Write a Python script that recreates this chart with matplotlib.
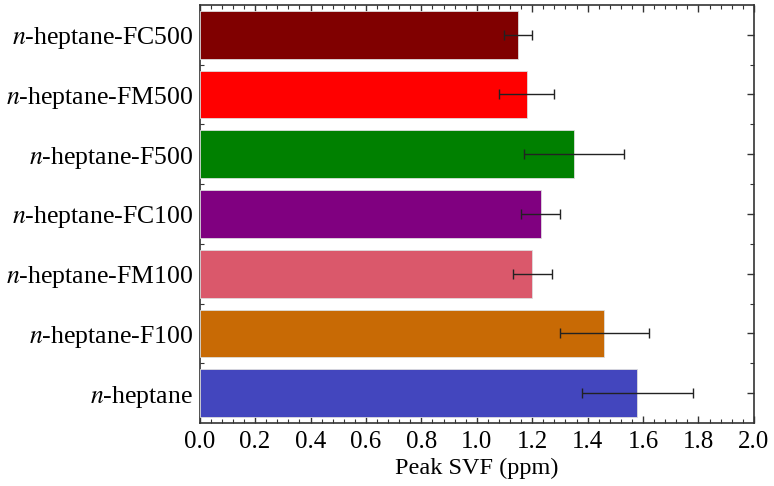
import matplotlib
matplotlib.use('Agg')
import matplotlib.pyplot as plt
from matplotlib.ticker import MultipleLocator

plt.rcParams['font.family'] = 'Liberation Serif'
plt.rcParams['mathtext.fontset'] = 'stix'

labels = [r'$\it{n}$-heptane', r'$\it{n}$-heptane-F100', r'$\it{n}$-heptane-FM100',
          r'$\it{n}$-heptane-FC100', r'$\it{n}$-heptane-F500', r'$\it{n}$-heptane-FM500',
          r'$\it{n}$-heptane-FC500']
values = [1.58, 1.46, 1.20, 1.23, 1.35, 1.18, 1.15]
errors = [0.20, 0.16, 0.07, 0.07, 0.18, 0.10, 0.05]
colors = ['#4346BE', '#C86A05', '#DA586B', '#800080', '#008000', '#FF0000', '#800000']

fig = plt.figure(figsize=(7.74, 4.86), dpi=100)
ax = fig.add_axes([0.258, 0.1296, 0.716, 0.8604])

pos = list(range(len(labels)))
ax.barh(pos, values, height=0.8, color=colors, edgecolor='#dddddd', linewidth=0.6, zorder=3)
ax.errorbar(values, pos, xerr=errors, fmt='none', ecolor='#222222', elinewidth=1.0,
            capsize=3.5, capthick=1.0, zorder=4)

ax.set_xlim(0, 2.0)
ax.set_ylim(-0.5, len(labels) - 0.5)
ax.set_yticks(pos)
ax.set_yticklabels(labels, fontsize=18.5)
ax.xaxis.set_major_locator(MultipleLocator(0.2))
ax.xaxis.set_minor_locator(MultipleLocator(0.04))
ax.set_yticks([p + 0.5 for p in pos[:-1]], minor=True)
ax.set_xticklabels([f'{v:.1f}' for v in ax.get_xticks()], fontsize=18)
ax.set_xlabel('Peak SVF (ppm)', fontsize=17.5, labelpad=3)

ax.tick_params(axis='x', which='both', direction='in', top=True, bottom=True, color='#333333', pad=6)
ax.tick_params(axis='x', which='major', length=5, width=1)
ax.tick_params(axis='x', which='minor', length=3, width=0.8)
ax.tick_params(axis='y', which='both', direction='in', left=True, right=True, color='#333333', pad=5)
ax.tick_params(axis='y', which='major', length=5, width=1)
ax.tick_params(axis='y', which='minor', length=3, width=0.8)
for s in ax.spines.values():
    s.set_linewidth(1.2)
    s.set_color('#333333')

plt.savefig('out.png', dpi=100)
